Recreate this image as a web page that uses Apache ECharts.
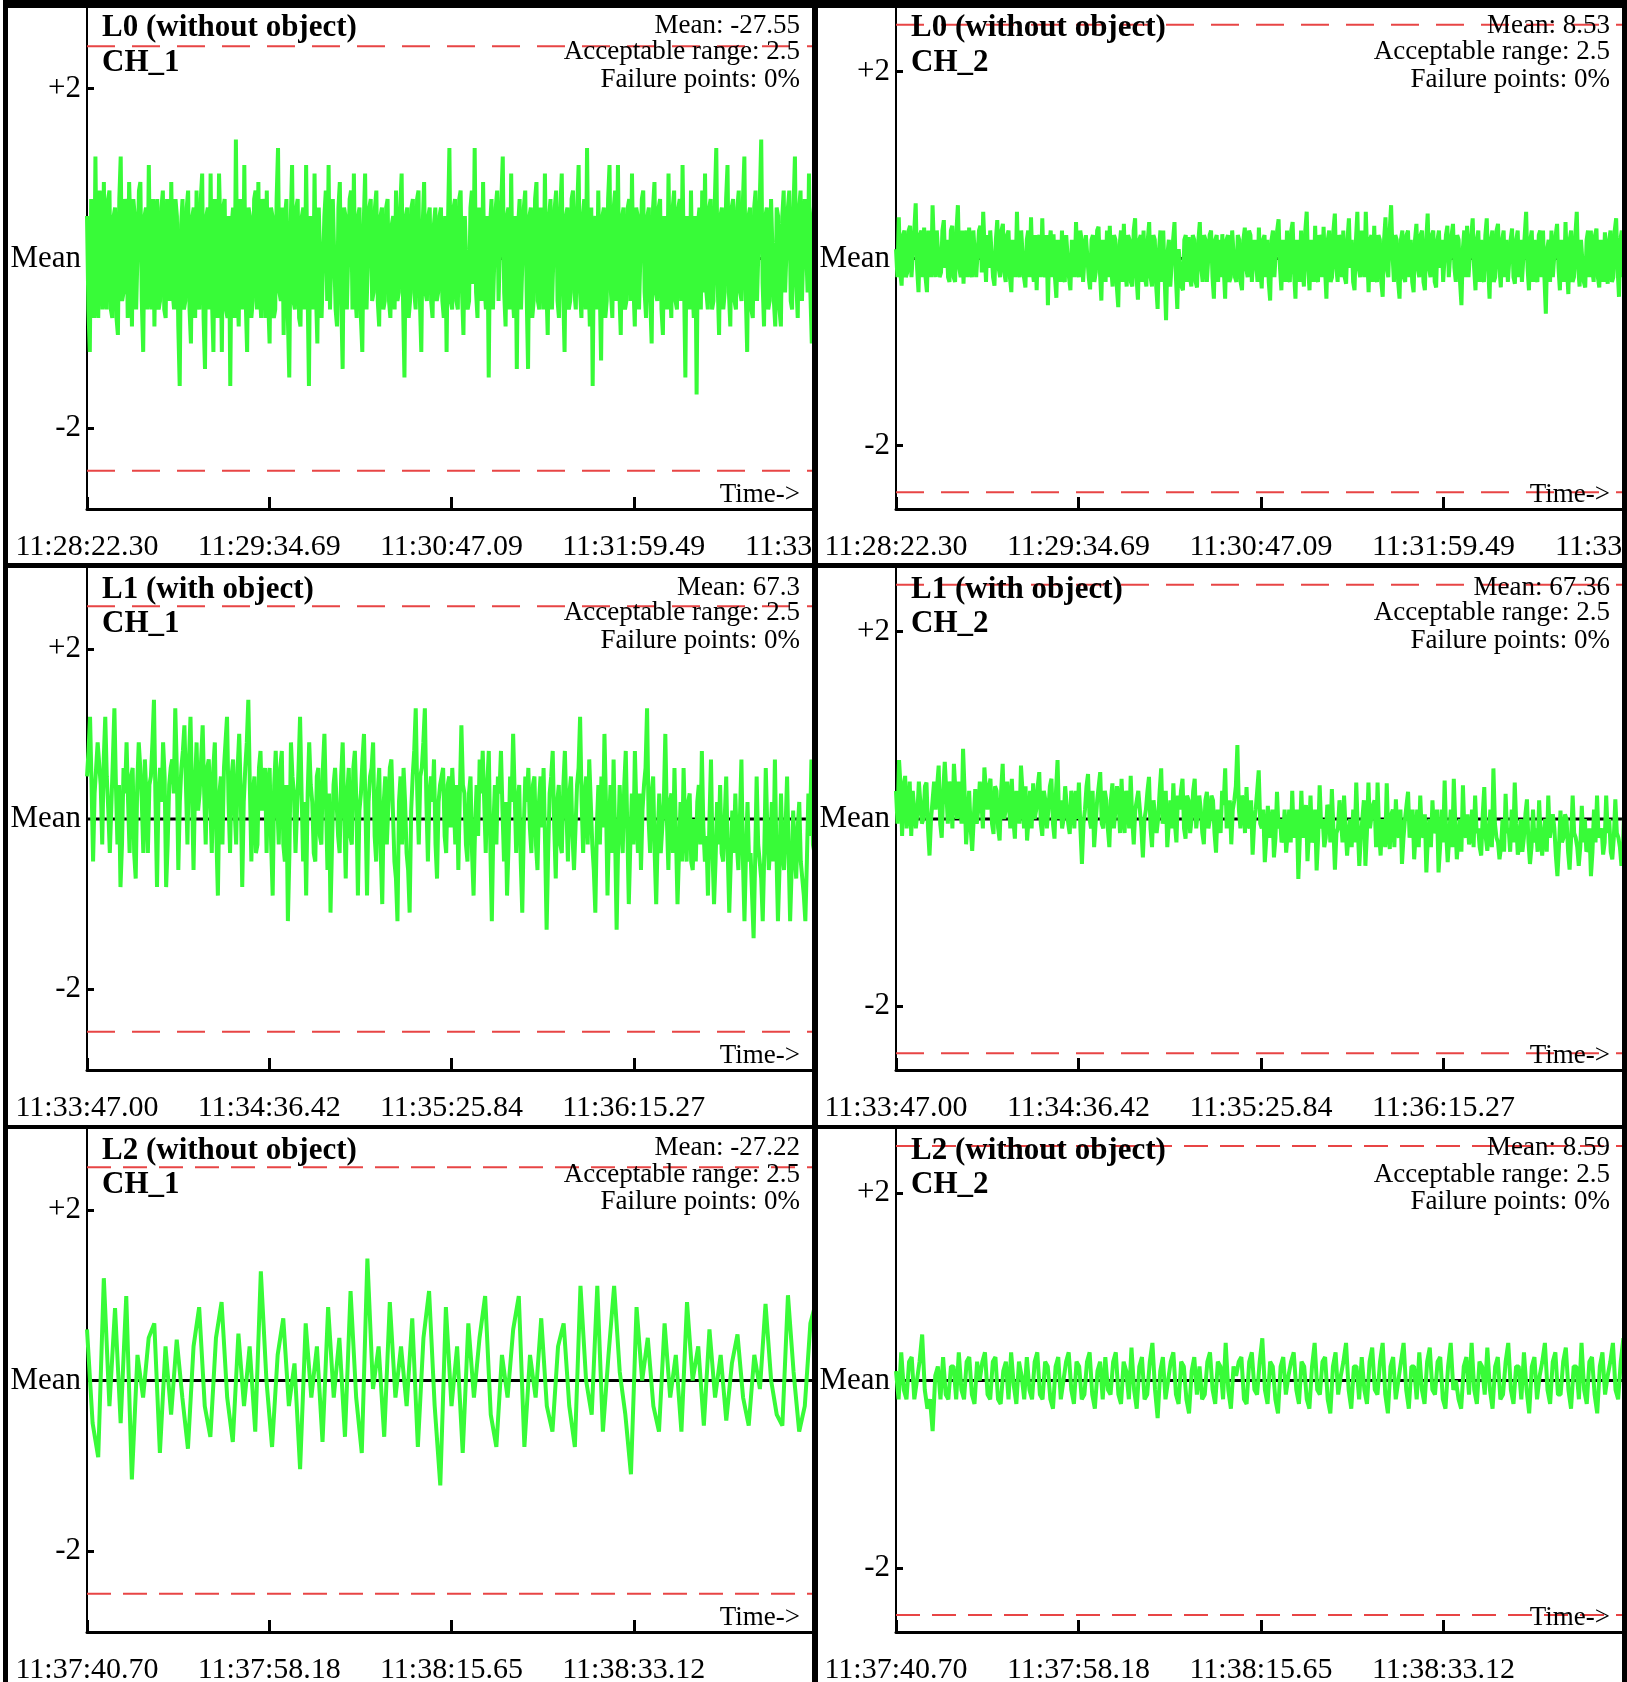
<!DOCTYPE html>
<html><head><meta charset="utf-8">
<script src="https://cdn.jsdelivr.net/npm/echarts@6/dist/echarts.min.js"></script>
<style>
html,body{margin:0;padding:0;background:#fff;width:1627px;height:1682px;overflow:hidden;}
#frame{position:absolute;left:3px;top:0;width:1624px;height:1682px;background:#000;}
.panel{position:absolute;overflow:hidden;background:#fff;}
</style></head><body>
<div id="frame"></div>
<script>
// ---------- tick labels ----------
const TICKS_L0 = ['11:28:22.30','11:29:34.69','11:30:47.09','11:31:59.49','11:33:11.89'];
const TICKS_L1 = ['11:33:47.00','11:34:36.42','11:35:25.84','11:36:15.27','11:37:04.69'];
const TICKS_L2 = ['11:37:40.70','11:37:58.18','11:38:15.65','11:38:33.12','11:38:50.59'];
const Y_TICK_VALUES = [-2, 0, 2];
const Y_TICK_LABELS = ['-2', 'Mean', '+2'];
const ACCEPTABLE_RANGE = 2.5;

// ---------- series values (deviation from mean) ----------
const L0_CH1 = [
0.5,-0.6,-1.1,0.7,0.5,-0.7,1.2,-0.5,-0.7,0.8,0.6,-0.6,0.9,-0.4,-0.6,0.7,0.8,-0.6,-0.7,0.5,
0.6,-0.7,-0.9,0.7,1.2,-0.5,-0.4,0.7,0.6,-0.7,0.9,0.3,-0.8,0.7,0.5,-0.6,-0.6,0.8,0.9,-0.5,
-1.1,0.5,0.6,-0.6,1.1,-0.3,-0.6,0.7,-0.8,0.5,0.7,-0.6,-0.5,0.6,0.8,-0.6,-0.7,0.7,0.7,-0.5,
0.9,-0.4,-0.6,0.7,0.5,-0.8,-1.5,0.4,0.7,-0.6,-0.5,0.6,0.8,-0.6,-1.0,0.5,0.6,-0.7,0.8,-0.5,
-0.6,0.7,1.0,-0.7,-1.3,0.5,0.6,-0.6,1.0,-0.5,-1.1,0.7,0.5,-0.7,1.0,0.3,-1.1,0.6,0.7,-0.6,
-0.7,0.5,-1.5,0.4,0.6,-0.7,1.4,-0.3,-0.8,0.7,0.7,-0.6,1.1,-0.5,-1.1,0.6,0.5,-0.7,-0.5,0.7,
0.8,-0.6,0.9,-0.4,-0.7,0.7,0.6,-0.7,0.8,-0.5,-1.0,0.6,0.5,-0.7,-0.6,0.7,1.3,-0.4,-0.5,0.6,
-0.9,0.5,0.7,-0.7,-1.4,0.4,1.1,-0.5,-0.6,0.6,0.7,-0.7,-0.8,0.5,0.6,-0.6,1.1,-0.3,-1.5,0.5,
0.5,-0.6,1.0,-0.4,-1.0,0.6,0.6,-0.7,-0.7,0.5,0.8,-0.5,1.1,-0.6,-0.6,0.7,0.7,-0.6,-0.8,0.6,
0.9,-0.5,-1.3,0.6,0.5,-0.6,-0.6,0.7,0.8,-0.6,1.0,-0.4,-0.7,0.5,0.6,-0.7,-1.1,0.4,1.0,-0.6,
-0.6,0.6,0.7,-0.5,-0.4,0.6,0.8,-0.5,-0.8,0.5,0.6,-0.6,-0.5,0.6,0.7,-0.5,-0.7,0.4,0.5,-0.6,
0.8,-0.5,-0.4,0.6,1.0,-0.5,-1.4,0.5,0.6,-0.7,-0.5,0.6,0.7,-0.4,-0.6,0.7,0.8,-0.5,-1.1,0.4,
0.9,-0.4,-0.5,0.5,0.6,-0.5,-0.7,0.4,0.6,-0.5,-0.4,0.5,0.6,-0.5,-0.7,0.5,-1.1,0.4,1.3,-0.5,
-0.6,0.6,0.7,-0.5,-0.6,0.7,0.8,-0.4,-0.9,0.5,0.5,-0.6,-0.5,0.6,0.8,-0.3,1.3,-0.4,-0.7,0.6,
0.6,-0.5,0.9,-0.3,-0.6,0.5,-1.4,0.4,0.7,-0.6,-0.6,0.6,0.8,-0.5,-0.5,0.7,1.2,-0.4,-0.8,0.5,
0.6,-0.6,1.0,-0.4,-0.7,0.5,-1.3,0.4,0.7,-0.6,-0.6,0.6,0.8,-0.4,-1.3,0.5,0.6,-0.7,-0.5,0.7,
0.9,-0.5,-0.6,0.6,0.5,-0.6,1.0,-0.3,-0.9,0.5,0.7,-0.6,-0.6,0.6,0.8,-0.5,-0.7,0.6,1.0,-0.4,
-1.1,0.5,0.6,-0.6,-0.5,0.7,0.8,-0.4,-0.6,0.6,1.1,-0.4,-0.7,0.5,0.7,-0.6,1.3,-0.2,-0.8,0.6,
-1.5,0.4,0.5,-0.6,0.8,-0.3,-1.2,0.5,0.6,-0.7,-0.5,0.7,1.1,-0.4,-0.7,0.6,0.8,-0.5,1.1,-0.4,
-0.9,0.5,0.6,-0.6,-0.5,0.6,0.7,-0.5,1.0,-0.3,-0.8,0.6,0.5,-0.6,-0.6,0.7,0.8,-0.4,-0.7,0.5,
0.6,-0.5,-1.0,0.6,0.9,-0.4,-0.5,0.6,0.7,-0.6,-0.9,0.5,0.5,-0.6,1.0,-0.3,-0.7,0.6,0.8,-0.5,
-0.6,0.6,0.7,-0.5,1.1,-0.2,-1.4,0.5,0.5,-0.6,0.8,-0.3,-0.7,0.5,-1.6,0.4,0.6,-0.6,0.8,-0.4,
1.0,-0.4,-0.6,0.6,0.7,-0.6,-0.5,0.7,1.3,-0.3,-0.9,0.5,0.6,-0.6,-0.4,0.7,1.1,-0.4,-0.8,0.6,
0.7,-0.5,-0.6,0.6,0.8,-0.4,-0.5,0.7,1.2,-0.4,-1.1,0.5,0.6,-0.6,-0.7,0.6,0.8,-0.5,-0.5,0.7,
1.4,-0.3,-0.8,0.5,0.6,-0.6,-0.5,0.7,0.7,-0.5,-0.8,0.6,0.5,-0.6,-0.8,0.5,0.8,-0.4,-0.4,0.6,
0.8,-0.5,-0.6,0.6,1.2,-0.3,-0.7,0.6,0.8,-0.5,-0.5,0.7,0.7,-0.4,1.0,-0.4,-1.0,0.5,0.7,-0.4
];
const L0_CH2 = [
0.1,-0.2,0.44,-0.15,-0.29,0.25,0.3,-0.2,-0.15,0.3,0.35,-0.2,-0.2,0.3,0.59,-0.1,-0.36,0.25,0.3,-0.2,
0.33,-0.2,-0.36,0.3,0.2,-0.2,0.57,0.1,-0.2,0.3,0.3,-0.2,-0.15,0.3,0.41,-0.1,0.2,-0.2,-0.25,0.3,
0.35,-0.2,-0.25,0.3,0.57,-0.1,-0.2,0.3,-0.27,0.2,0.3,-0.2,0.33,-0.1,-0.2,0.3,0.3,-0.2,-0.2,0.3,
0.35,-0.15,0.5,0.1,-0.25,0.25,-0.1,0.3,0.3,-0.2,-0.29,0.2,0.41,-0.1,-0.2,0.3,0.37,-0.15,-0.25,0.25,
0.3,-0.2,-0.36,0.2,0.2,-0.2,0.5,-0.1,-0.2,0.3,0.3,-0.2,-0.31,0.2,0.3,-0.2,0.44,-0.1,-0.25,0.25,
-0.34,0.2,0.25,-0.2,0.43,-0.1,-0.2,0.25,-0.5,0.15,0.3,-0.2,0.26,-0.2,-0.42,0.2,0.2,-0.25,0.3,-0.2,
-0.25,0.25,0.23,-0.2,-0.34,0.2,0.2,-0.2,0.39,-0.1,-0.2,0.3,0.2,-0.25,-0.25,0.25,0.24,-0.2,-0.33,0.2,
0.25,-0.25,-0.15,0.3,0.34,-0.15,-0.45,0.2,0.2,-0.25,0.3,-0.2,0.35,-0.1,-0.3,0.25,0.2,-0.3,-0.52,0.15,
0.3,-0.25,0.37,-0.1,-0.3,0.25,0.2,-0.25,-0.3,0.3,0.43,-0.2,-0.44,0.2,0.25,-0.25,0.3,-0.2,-0.3,0.2,
0.39,-0.2,-0.3,0.25,0.2,-0.3,-0.54,0.1,0.3,-0.25,0.3,-0.2,-0.66,0.05,0.2,-0.3,-0.3,0.2,0.39,-0.2,
-0.54,0.1,0.1,-0.3,-0.34,0.2,0.25,-0.25,0.23,-0.2,-0.3,0.25,0.2,-0.25,-0.31,0.2,0.39,-0.1,-0.25,0.25,
0.2,-0.25,-0.25,0.25,0.3,-0.2,-0.43,0.2,0.25,-0.25,0.2,-0.2,0.26,-0.1,-0.43,0.2,0.25,-0.25,-0.2,0.3,
0.28,-0.2,-0.25,0.25,0.2,-0.25,-0.34,0.2,0.33,-0.1,-0.2,0.3,0.25,-0.25,-0.25,0.2,0.2,-0.25,0.33,-0.1,
-0.32,0.2,0.25,-0.2,0.2,-0.25,-0.45,0.2,0.3,-0.2,-0.2,0.3,0.42,-0.1,-0.34,0.2,0.2,-0.25,0.3,-0.2,
-0.25,0.3,0.39,-0.15,-0.43,0.2,0.2,-0.25,0.3,-0.1,-0.3,0.3,0.5,-0.1,-0.34,0.2,0.2,-0.25,0.35,-0.2,
-0.25,0.25,0.2,-0.2,0.34,-0.1,-0.43,0.2,0.3,-0.25,-0.2,0.3,0.48,-0.1,-0.25,0.25,0.2,-0.2,0.3,-0.2,
-0.27,0.2,0.43,-0.1,0.2,-0.25,-0.34,0.2,0.5,-0.1,-0.2,0.3,0.3,-0.2,0.5,0.05,-0.36,0.2,0.25,-0.25,
0.35,-0.2,-0.25,0.25,0.2,-0.25,-0.41,0.2,0.44,-0.1,-0.2,0.3,0.57,0.05,-0.25,0.25,0.2,-0.25,-0.43,0.2,
0.3,-0.2,-0.25,0.25,0.3,-0.2,0.2,-0.25,-0.36,0.2,0.37,-0.1,-0.2,0.25,0.3,-0.25,-0.34,0.2,0.48,-0.1,
-0.2,0.25,0.3,-0.25,-0.31,0.2,0.3,-0.1,0.2,-0.25,-0.25,0.25,0.35,-0.2,-0.2,0.25,0.37,-0.1,-0.25,0.25,
0.2,-0.25,-0.5,0.1,0.3,-0.2,0.35,-0.2,-0.2,0.25,0.43,-0.1,-0.34,0.2,0.3,-0.25,0.2,-0.2,-0.25,0.25,
0.43,-0.1,-0.43,0.2,0.3,-0.25,-0.2,0.3,0.37,-0.1,-0.31,0.2,0.3,-0.2,0.2,-0.25,-0.27,0.2,0.32,-0.2,
-0.27,0.2,0.3,-0.2,0.2,-0.25,-0.25,0.25,0.5,-0.1,-0.34,0.2,0.3,-0.25,0.2,-0.2,-0.25,0.25,0.3,-0.2,
0.3,-0.2,-0.59,0.1,0.2,-0.25,0.3,-0.2,-0.2,0.25,0.37,-0.1,-0.34,0.2,0.2,-0.25,0.39,-0.1,-0.38,0.2,
0.3,-0.25,-0.2,0.25,0.5,-0.1,-0.3,0.2,0.2,-0.25,-0.31,0.2,0.3,-0.2,0.3,-0.1,-0.25,0.25,0.32,-0.2,
-0.31,0.2,0.2,-0.25,0.28,-0.1,-0.27,0.2,0.3,-0.25,-0.2,0.3,0.43,-0.1,-0.41,0.2,0.3,-0.2,0.3,0.1
];
const L1_CH1 = [
0.5,0.8,1.2,0.4,-0.5,0.3,0.6,0.9,0.9,0.4,-0.3,0.7,1.2,0.5,0.1,-0.4,-0.4,0.7,1.3,0.4,
-0.3,0.4,-0.8,-0.3,0.6,0.3,0.9,0.2,-0.4,0.5,0.6,-0.4,-0.7,0.4,0.9,0.6,0.2,-0.4,0.7,0.3,
-0.4,0.4,0.5,0.9,1.4,0.2,-0.8,0.3,0.6,0.2,0.9,0.5,-0.8,-0.3,0.4,0.6,0.7,0.3,1.3,0.6,
-0.6,0.2,0.6,0.8,1.1,0.4,-0.3,0.7,1.2,0.3,-0.6,0.4,0.9,0.1,0.3,0.7,1.1,0.3,-0.3,0.6,
0.7,0.2,-0.4,0.6,0.9,-0.2,-0.9,0.3,0.5,-0.3,0.6,0.9,1.2,0.2,-0.4,0.5,0.7,0.1,-0.3,0.6,
1.0,0.3,-0.8,0.2,0.6,0.9,1.4,0.4,-0.5,0.3,0.5,-0.4,-0.3,0.6,0.8,0.1,0.3,0.6,-0.4,0.4,
0.6,-0.3,-0.9,0.4,0.8,0.2,-0.3,0.6,0.8,-0.3,-0.5,0.4,-1.2,-0.4,0.9,0.5,0.3,-0.4,-0.4,0.6,
1.2,0.3,-0.5,0.2,-0.9,0.3,0.9,0.4,0.2,-0.4,-0.5,0.5,0.6,-0.2,-0.3,0.6,1.0,0.2,-0.6,0.3,
-1.1,-0.3,0.4,0.6,0.6,-0.2,-0.4,0.5,0.9,0.1,-0.7,0.3,0.6,-0.2,-0.3,0.6,0.8,0.2,-0.9,0.1,
0.3,0.7,1.0,0.1,-0.9,0.2,0.5,0.6,0.9,-0.2,-0.5,0.3,0.6,-0.4,-1.0,0.2,0.5,-0.3,-0.3,0.6,
0.7,0.1,-0.5,-0.7,-1.2,0.2,0.5,-0.3,0.6,0.2,-0.4,-0.6,-1.1,0.1,0.5,0.8,1.3,0.3,-0.3,0.5,
0.6,0.9,1.3,0.2,-0.5,0.3,0.5,0.2,0.7,-0.3,-0.7,0.2,0.4,0.5,0.6,-0.2,-0.4,0.4,0.5,-0.1,
0.6,0.2,-0.3,0.4,-0.6,0.3,1.1,0.4,0.3,-0.3,-0.5,0.3,0.5,-0.4,-0.9,-0.1,0.4,-0.2,0.7,0.3,
0.8,0.2,-0.4,0.4,0.8,-0.3,-1.2,-0.1,0.4,-0.3,0.5,0.3,0.8,0.1,-0.5,0.2,-0.9,-0.3,0.5,0.2,
1.0,0.3,-0.4,0.2,0.4,-0.5,-1.1,-0.1,0.5,0.2,0.6,-0.1,-0.4,0.4,0.5,-0.3,-0.6,0.2,0.5,-0.1,
0.6,-0.3,-1.3,-0.4,0.3,0.5,0.8,-0.1,-0.7,0.2,0.4,-0.3,-0.4,0.4,0.8,0.1,-0.5,0.3,0.5,-0.2,
-0.6,-0.1,0.4,0.6,1.2,0.2,-0.4,0.3,0.5,-0.3,0.7,0.2,-0.3,-0.6,-1.1,-0.1,0.4,-0.3,0.5,-0.1,
1.0,0.2,-0.9,-0.1,0.4,-0.4,0.7,-0.2,-1.3,-0.3,0.4,-0.1,-0.4,0.4,0.8,-0.1,-1.0,-0.3,0.3,-0.3,
0.8,0.1,-0.4,0.3,-0.6,0.1,0.4,0.6,1.3,0.0,-0.4,0.3,0.5,-0.4,-1.0,-0.2,0.3,-0.4,-0.4,0.2,
1.0,0.0,-0.6,0.2,0.3,-0.4,0.6,-0.2,-1.0,-0.4,0.2,-0.5,0.6,-0.1,-0.5,0.2,0.3,-0.5,-0.6,0.0,
-0.5,0.2,0.4,-0.3,0.8,-0.1,-0.5,-0.2,-0.9,0.0,0.7,-0.4,-1.0,-0.5,0.2,-0.3,0.4,-0.4,-0.5,0.0,
0.5,-0.4,-1.1,-0.5,0.1,-0.4,0.3,-0.3,-0.6,0.0,0.7,-0.5,-1.2,-0.4,0.2,-0.5,-0.4,-0.9,-1.4,-0.5,
0.5,-0.3,-0.5,-0.7,-1.2,-0.4,0.6,-0.1,-0.6,-0.3,0.2,-0.5,0.7,-0.4,-1.2,-0.6,0.3,-0.4,-0.6,-0.1,
0.5,-0.4,-1.2,-0.6,0.1,-0.4,-0.7,-0.1,0.2,-0.5,-0.5,-0.9,-1.2,-0.5,0.3,-0.2,0.7,-0.3,-0.4,0.2
];
const L1_CH2 = [
0.3,-0.05,0.63,0.35,-0.18,0.35,0.46,-0.1,0.1,0.4,-0.18,0.3,0.3,-0.1,0.05,0.4,0.38,-0.05,0.0,0.35,
0.39,-0.1,-0.39,0.0,0.2,0.4,0.1,0.35,0.57,-0.05,-0.2,0.3,0.61,0.3,-0.05,0.4,0.3,-0.1,0.59,0.3,
0.0,0.4,0.2,-0.05,0.75,0.3,-0.27,0.0,0.3,-0.1,-0.34,0.0,0.32,-0.05,0.1,0.4,0.2,-0.1,0.55,0.3,
0.1,0.35,0.43,-0.05,-0.16,0.35,0.3,-0.1,-0.23,0.3,0.59,0.0,0.1,0.4,0.2,-0.1,0.43,0.0,-0.21,0.3,
0.3,-0.05,0.57,0.3,-0.1,0.35,-0.23,0.0,0.3,-0.1,0.38,0.0,0.1,0.35,0.5,-0.05,-0.18,0.3,0.2,-0.1,
0.1,0.35,0.43,-0.05,-0.21,0.3,0.63,0.0,0.2,-0.1,0.0,0.35,0.36,-0.05,-0.16,0.3,0.2,-0.1,0.3,0.0,
0.39,-0.1,-0.48,-0.05,0.1,0.35,0.48,0.0,-0.1,0.3,-0.3,-0.05,0.2,0.35,0.5,-0.05,-0.1,0.3,0.2,-0.1,
-0.3,0.2,0.38,-0.1,0.1,0.35,0.2,-0.15,0.43,0.0,-0.15,0.3,0.2,-0.1,0.46,0.0,-0.27,0.1,0.1,0.3,
0.32,-0.1,-0.41,0.0,0.1,0.3,0.45,-0.1,-0.3,0.2,0.2,-0.15,0.0,0.3,0.54,-0.05,0.1,0.3,-0.3,-0.05,
0.2,-0.1,0.38,-0.05,-0.25,0.25,0.1,0.3,0.43,-0.1,-0.21,0.25,0.2,-0.15,0.0,0.3,0.43,-0.1,-0.1,0.25,
0.1,-0.15,-0.27,0.2,0.29,-0.1,0.0,0.25,0.2,-0.15,-0.36,0.1,0.1,-0.15,0.3,0.15,0.54,-0.1,-0.1,0.2,
-0.27,0.1,0.2,0.35,0.79,0.1,-0.1,0.25,0.2,-0.15,0.34,-0.05,-0.1,0.2,-0.38,-0.05,0.1,0.3,0.52,-0.05,
-0.1,0.1,-0.46,-0.2,0.14,-0.2,-0.1,0.1,-0.41,-0.2,0.29,-0.1,0.0,-0.25,-0.2,0.1,-0.36,-0.15,0.1,-0.25,
0.3,-0.2,-0.2,0.1,-0.64,-0.2,0.3,-0.2,-0.1,0.15,-0.45,-0.15,0.25,-0.25,-0.2,0.1,-0.55,-0.2,0.36,-0.1,
0.0,-0.3,-0.2,0.15,0.1,-0.25,0.32,-0.1,-0.54,-0.15,-0.1,0.2,0.2,-0.25,0.25,-0.1,-0.39,-0.15,0.0,-0.3,
0.1,-0.25,0.39,-0.1,-0.5,-0.2,0.0,0.2,-0.5,-0.15,0.39,-0.1,-0.1,0.15,0.2,-0.3,0.39,-0.15,-0.39,0.0,
0.0,-0.3,0.38,-0.15,-0.32,0.05,0.1,-0.3,0.21,-0.15,-0.2,0.1,-0.48,-0.2,0.0,0.15,0.29,-0.2,-0.2,0.1,
-0.43,-0.15,0.1,-0.3,0.25,-0.15,-0.2,0.05,-0.57,-0.2,0.0,-0.3,0.2,-0.15,-0.1,0.1,-0.57,-0.3,0.1,-0.25,
0.41,-0.15,-0.46,-0.2,0.1,-0.3,0.43,-0.05,-0.43,-0.2,0.0,-0.35,0.36,-0.15,-0.2,0.05,-0.27,-0.2,0.1,-0.3,
0.25,-0.15,-0.1,-0.3,-0.39,0.05,0.34,-0.2,-0.34,-0.15,0.1,-0.3,0.54,-0.05,-0.2,-0.25,-0.43,-0.3,0.0,-0.35,
0.27,-0.15,-0.1,-0.35,0.1,-0.25,0.39,-0.05,-0.38,-0.3,0.0,-0.35,-0.2,0.05,0.21,-0.25,-0.48,-0.3,0.1,-0.25,
-0.1,-0.35,0.2,-0.2,-0.39,-0.15,0.0,-0.35,0.25,-0.2,-0.2,0.05,-0.1,-0.4,-0.61,-0.3,0.09,-0.25,-0.2,0.05,
0.0,-0.35,-0.54,-0.2,0.25,-0.15,-0.2,-0.3,-0.5,-0.3,0.14,-0.25,0.0,-0.35,-0.3,-0.1,-0.61,-0.35,0.1,-0.25,
0.25,-0.2,-0.2,-0.1,-0.38,-0.25,0.25,-0.15,0.0,-0.35,-0.43,-0.2,0.21,-0.15,-0.2,-0.3,-0.5,-0.3,0.18,-0.15
];
const L2_CH1 = [
0.6,-0.5,-0.9,1.2,-0.3,0.85,-0.5,0.99,-1.16,0.3,-0.2,0.5,0.67,-0.85,0.4,-0.4,0.48,-0.2,-0.8,0.4,
0.86,-0.3,-0.66,0.5,0.92,-0.2,-0.72,0.55,-0.3,0.4,-0.6,1.28,0.0,-0.78,0.3,0.73,-0.3,0.2,-1.04,0.67,
-0.2,0.4,-0.72,0.86,-0.2,0.5,-0.66,1.05,-0.2,-0.85,1.43,-0.1,0.4,-0.66,0.92,-0.2,0.4,-0.3,0.73,-0.78,
0.5,1.05,-0.3,-1.23,0.86,-0.3,0.4,-0.85,0.67,-0.2,0.5,0.99,-0.4,-0.78,0.3,-0.2,0.6,0.99,-0.78,0.3,
-0.2,0.73,-0.3,-0.6,0.4,0.67,-0.3,-0.78,1.11,0.0,-0.4,1.11,-0.6,0.3,1.11,0.1,-0.4,-1.1,0.86,0.0,
0.5,-0.3,-0.6,0.67,-0.2,0.3,-0.6,0.92,0.0,0.4,-0.53,0.6,-0.2,0.3,-0.47,0.2,0.54,-0.2,-0.53,0.3,
-0.1,0.9,0.0,-0.4,-0.53,1.0,0.1,-0.6,-0.3,0.67,0.92
];
const L2_CH2 = [
0.1,-0.2,0.3,-0.1,-0.2,0.2,0.25,-0.2,0.0,0.2,0.49,-0.1,-0.3,-0.2,-0.54,0.05,0.15,-0.2,0.25,-0.15,
-0.2,0.15,0.15,-0.2,0.3,-0.1,-0.2,0.2,0.25,-0.15,-0.25,0.2,0.0,0.2,0.3,-0.15,-0.2,0.2,0.25,-0.2,
-0.25,0.1,0.2,-0.2,0.3,-0.05,-0.25,0.2,0.05,-0.2,0.25,-0.1,-0.2,0.2,0.3,-0.15,-0.2,0.2,0.15,-0.2,
-0.3,0.15,0.25,-0.2,0.0,0.2,0.3,-0.1,-0.25,0.2,0.15,-0.2,-0.15,0.2,0.3,-0.15,-0.3,0.1,0.2,-0.2,
0.25,-0.1,-0.15,0.2,0.3,-0.15,-0.25,0.2,0.1,-0.2,0.35,-0.1,-0.3,0.15,0.25,-0.2,-0.15,0.2,0.4,-0.1,
-0.4,0.1,0.25,-0.2,0.0,0.2,0.3,-0.15,-0.25,0.2,0.15,-0.2,-0.35,0.1,0.25,-0.15,0.15,-0.2,-0.15,0.2,
0.3,-0.1,-0.25,0.2,0.15,-0.2,0.4,-0.1,-0.3,0.15,0.05,0.2,0.25,-0.2,-0.25,0.2,0.3,-0.1,-0.15,0.2,
0.45,-0.1,-0.25,0.2,0.15,-0.2,-0.35,0.15,0.25,-0.15,0.05,0.2,0.3,-0.1,-0.25,0.2,0.15,-0.2,-0.3,0.15,
0.4,-0.1,-0.15,0.2,0.25,-0.2,-0.35,0.15,0.3,-0.15,0.05,0.2,0.4,-0.1,-0.3,0.15,0.15,-0.2,0.25,-0.1,
-0.25,0.2,0.35,-0.1,-0.15,0.2,0.4,-0.15,-0.35,0.15,0.25,-0.2,0.0,0.2,0.4,-0.1,-0.3,0.15,0.15,-0.2,
0.3,-0.1,-0.25,0.2,0.35,-0.1,-0.15,0.2,0.25,-0.2,-0.3,0.15,0.4,-0.1,0.0,-0.2,-0.3,0.15,0.25,-0.15,
0.4,-0.1,-0.25,0.2,0.15,-0.15,0.35,-0.1,-0.3,0.15,0.25,-0.2,-0.15,0.2,0.4,-0.1,-0.25,0.15,0.15,-0.2,
0.3,-0.1,-0.35,0.15,0.25,-0.2,0.05,0.2,0.4,-0.1,-0.25,0.2,0.3,-0.15,-0.15,0.2,0.35,-0.1,-0.3,0.15,
0.15,-0.2,0.4,-0.1,-0.25,0.2,0.25,-0.15,-0.35,0.15,0.3,-0.15,0.05,0.2,0.4,-0.1,-0.2,0.2,0.45,0.1
];

// ---------- panel text ----------
const PANELS = [
  {row:0,col:0,title:'L0 (without object)',ch:'CH_1',mean:'Mean: -27.55',vals:L0_CH1,ticks:TICKS_L0},
  {row:0,col:1,title:'L0 (without object)',ch:'CH_2',mean:'Mean: 8.53',vals:L0_CH2,ticks:TICKS_L0},
  {row:1,col:0,title:'L1 (with object)',ch:'CH_1',mean:'Mean: 67.3',vals:L1_CH1,ticks:TICKS_L1},
  {row:1,col:1,title:'L1 (with object)',ch:'CH_2',mean:'Mean: 67.36',vals:L1_CH2,ticks:TICKS_L1},
  {row:2,col:0,title:'L2 (without object)',ch:'CH_1',mean:'Mean: -27.22',vals:L2_CH1,ticks:TICKS_L2},
  {row:2,col:1,title:'L2 (without object)',ch:'CH_2',mean:'Mean: 8.59',vals:L2_CH2,ticks:TICKS_L2}
];
const RANGE_TEXT = 'Acceptable range: 2.5';
const FAIL_TEXT = 'Failure points: 0%';
const TIME_TEXT = 'Time->';

// ---------- layout ----------
const rowTop = [8, 568, 1129], rowH = [555, 557, 553], axisY = [501, 502, 503];
const colLeft = [8, 818], gridLeft = [79, 78], yExt = [2.95, 2.68];
const dashPat = [[28,17],[28,17],[24,12]];
const SERIF = '"Liberation Serif","Times New Roman",serif';
const GREEN = '#38fb38', RED = '#e84545';
const XMAX = 4;  // x axis spans four tick intervals

PANELS.forEach(p => {
  const wrap = document.createElement('div');
  wrap.className = 'panel';
  wrap.style.left = colLeft[p.col] + 'px';
  wrap.style.top = rowTop[p.row] + 'px';
  wrap.style.width = '804px';
  wrap.style.height = rowH[p.row] + 'px';
  const c = document.createElement('div');
  c.style.cssText = 'position:absolute;left:0;top:0;width:808px;height:' + rowH[p.row] + 'px;';
  wrap.appendChild(c);
  document.body.appendChild(wrap);
  const chart = echarts.init(c, null, {renderer: 'canvas'});
  const n = p.vals.length;
  const data = p.vals.map((v, i) => [i * XMAX / (n - 1), v]);
  const ext = yExt[p.col];
  const r = p.row;
  const ty = [[18,44,72],[20,45,73],[19,46,73]][r];
  const lineSeries = (y, color, width, type, z) => ({
    type: 'line', data: [[0, y], [XMAX, y]], symbol: 'none', silent: true, z: z,
    lineStyle: {color: color, width: width, type: type}, animation: false
  });
  chart.setOption({
    animation: false,
    grid: {left: gridLeft[p.col], right: 0, top: 0, height: axisY[r], outerBoundsMode: 'none', containLabel: false},
    xAxis: {
      type: 'value', min: 0, max: XMAX, interval: 1,
      axisLine: {onZero: false, lineStyle: {color: '#000', width: 3}},
      axisTick: {inside: true, length: 12, lineStyle: {color: '#000', width: 3}},
      axisLabel: {
        fontFamily: SERIF, fontSize: 30, color: '#000', margin: 23,
        showMinLabel: true, showMaxLabel: r === 0, hideOverlap: false,
        formatter: v => p.ticks[Math.round(v)] || ''
      },
      splitLine: {show: false}
    },
    yAxis: {
      type: 'value', min: -ext, max: ext,
      axisLine: {show: true, onZero: false, lineStyle: {color: '#000', width: 2}},
      axisTick: {show: true, inside: true, length: 7, lineStyle: {color: '#000', width: 3}, customValues: [-2, 2]},
      axisLabel: {
        customValues: Y_TICK_VALUES, fontFamily: SERIF, fontSize: 31, color: '#000', margin: 6,
        padding: [4, 0, 0, 0],
        formatter: v => Y_TICK_LABELS[Y_TICK_VALUES.indexOf(Math.round(v))]
      },
      splitLine: {show: false}
    },
    series: [
      lineSeries(0, '#000', 3, 'solid', 1),
      {type: 'line', data: data, symbol: 'none', silent: true, z: 2, sampling: 'none',
       lineStyle: {color: GREEN, width: 4}, animation: false},
      lineSeries(ACCEPTABLE_RANGE, RED, 2, dashPat[r], 3),
      lineSeries(-ACCEPTABLE_RANGE, RED, 2, dashPat[r], 3)
    ],
    graphic: [
      {type: 'text', x: gridLeft[p.col] + 15, y: [20,22,22][r], z: 10,
       style: {text: p.title, font: 'bold 31px ' + SERIF, fill: '#000', align: 'left', verticalAlign: 'middle'}},
      {type: 'text', x: gridLeft[p.col] + 15, y: [55,56,56][r], z: 10,
       style: {text: p.ch, font: 'bold 31px ' + SERIF, fill: '#000', align: 'left', verticalAlign: 'middle'}},
      {type: 'text', x: 792, y: ty[0], z: 10,
       style: {text: p.mean, font: '27px ' + SERIF, fill: '#000', align: 'right', verticalAlign: 'middle'}},
      {type: 'text', x: 792, y: ty[1], z: 10,
       style: {text: RANGE_TEXT, font: '27px ' + SERIF, fill: '#000', align: 'right', verticalAlign: 'middle'}},
      {type: 'text', x: 792, y: ty[2], z: 10,
       style: {text: FAIL_TEXT, font: '27px ' + SERIF, fill: '#000', align: 'right', verticalAlign: 'middle'}},
      {type: 'text', x: 792, y: axisY[r] - 14, z: 10,
       style: {text: TIME_TEXT, font: '27px ' + SERIF, fill: '#000', align: 'right', verticalAlign: 'middle'}}
    ]
  });
});
</script>
</body></html>
